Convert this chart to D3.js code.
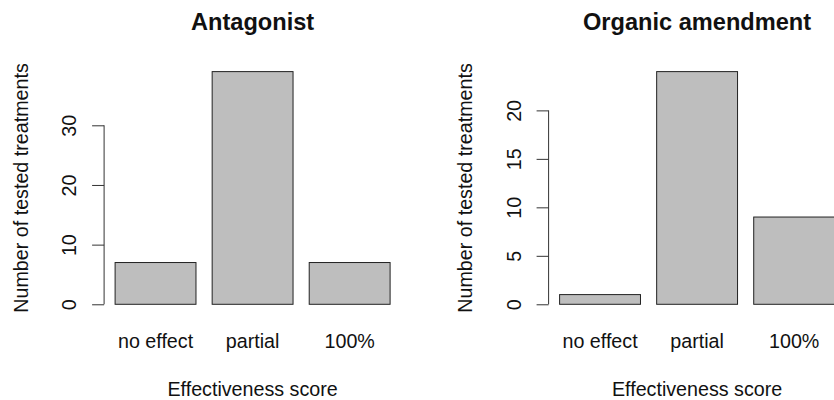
<!DOCTYPE html>
<html>
<head>
<meta charset="utf-8">
<script src="https://cdn.jsdelivr.net/npm/d3@7"></script>
<style>
  html, body { margin: 0; padding: 0; background: #fff; }
  svg { display: block; }
  text { font-family: "Liberation Sans", Arial, Helvetica, sans-serif; fill: #111; }
</style>
</head>
<body>
<svg id="chart" width="834" height="400"></svg>
<script>
// Effectiveness categories shared by both panels
const categories = ["no effect", "partial", "100%"];

// Number of tested treatments per category
const antagonistCounts = [7, 39, 7];
const organicCounts = [1, 24, 9];

// Y-axis tick labels for each panel
const antagonistTicks = [0, 10, 20, 30];
const organicTicks = [0, 5, 10, 15, 20];

const panelTitles = ["Antagonist", "Organic amendment"];
const xTitle = "Effectiveness score";
const yTitle = "Number of tested treatments";

const svg = d3.select("#chart");
svg.append("rect").attr("width", 834).attr("height", 400).attr("fill", "#fff");

const plotTop = 62.3, plotBottom = 313.6, plotWidth = 297;
const tickFont = 19.7, titleFont = 23.6;

function drawPanel(x0, title, values, ticks) {
  const g = svg.append("g");

  // barplot-style layout: bar width 1, space 0.2, 4% axis extension
  const x = d3.scaleBand()
    .domain(categories)
    .range([x0, x0 + plotWidth])
    .paddingInner(0.2 / 1.2)
    .paddingOuter(0.136 / 1.2);

  const maxV = d3.max(values);
  const y = d3.scaleLinear()
    .domain([-0.04 * maxV, maxV * 1.04])
    .range([plotBottom, plotTop]);

  // Bars
  g.selectAll("rect.bar")
    .data(values)
    .join("rect")
    .attr("class", "bar")
    .attr("x", (d, i) => x(categories[i]))
    .attr("width", x.bandwidth())
    .attr("y", d => y(d))
    .attr("height", d => y(0) - y(d))
    .attr("fill", "#bebebe")
    .attr("stroke", "#222")
    .attr("stroke-width", 1);

  // Y axis: line spans first to last tick only
  const yAxis = g.append("g")
    .attr("transform", `translate(${x0},0)`)
    .call(d3.axisLeft(y).tickValues(ticks).tickSize(12).tickSizeOuter(0).tickFormat(d3.format("d")));
  yAxis.select(".domain").remove();
  yAxis.selectAll(".tick line").attr("stroke", "#333").attr("stroke-width", 1);
  yAxis.selectAll(".tick text")
    .attr("x", null).attr("dy", null)
    .attr("transform", "translate(-27.8,0) rotate(-90)")
    .attr("text-anchor", "middle")
    .style("font-size", tickFont + "px")
    .attr("fill", "#111");
  yAxis.append("line")
    .attr("x1", 0).attr("x2", 0)
    .attr("y1", y(d3.min(ticks))).attr("y2", y(d3.max(ticks)))
    .attr("stroke", "#333").attr("stroke-width", 1);
  yAxis.attr("font-family", null).attr("font-size", null);

  // Category labels under the bars
  const xAxis = g.append("g")
    .attr("transform", `translate(0,${plotBottom})`)
    .call(d3.axisBottom(x).tickSize(0));
  xAxis.select(".domain").remove();
  xAxis.selectAll(".tick text")
    .attr("y", 34.7).attr("dy", null)
    .style("font-size", tickFont + "px")
    .attr("fill", "#111");
  xAxis.attr("font-family", null).attr("font-size", null);

  const cx = x0 + plotWidth / 2;

  // Panel title
  g.append("text")
    .attr("x", cx).attr("y", 29.5)
    .attr("text-anchor", "middle")
    .style("font-size", titleFont + "px")
    .style("font-weight", "bold")
    .text(title);

  // Axis titles
  g.append("text")
    .attr("x", cx).attr("y", 396)
    .attr("text-anchor", "middle")
    .style("font-size", tickFont + "px")
    .text(xTitle);

  g.append("text")
    .attr("transform", `translate(${x0 - 76.3},${(plotTop + plotBottom) / 2}) rotate(-90)`)
    .attr("text-anchor", "middle")
    .style("font-size", tickFont + "px")
    .text(yTitle);
}

drawPanel(104.1, panelTitles[0], antagonistCounts, antagonistTicks);
drawPanel(548.6, panelTitles[1], organicCounts, organicTicks);
</script>
</body>
</html>
